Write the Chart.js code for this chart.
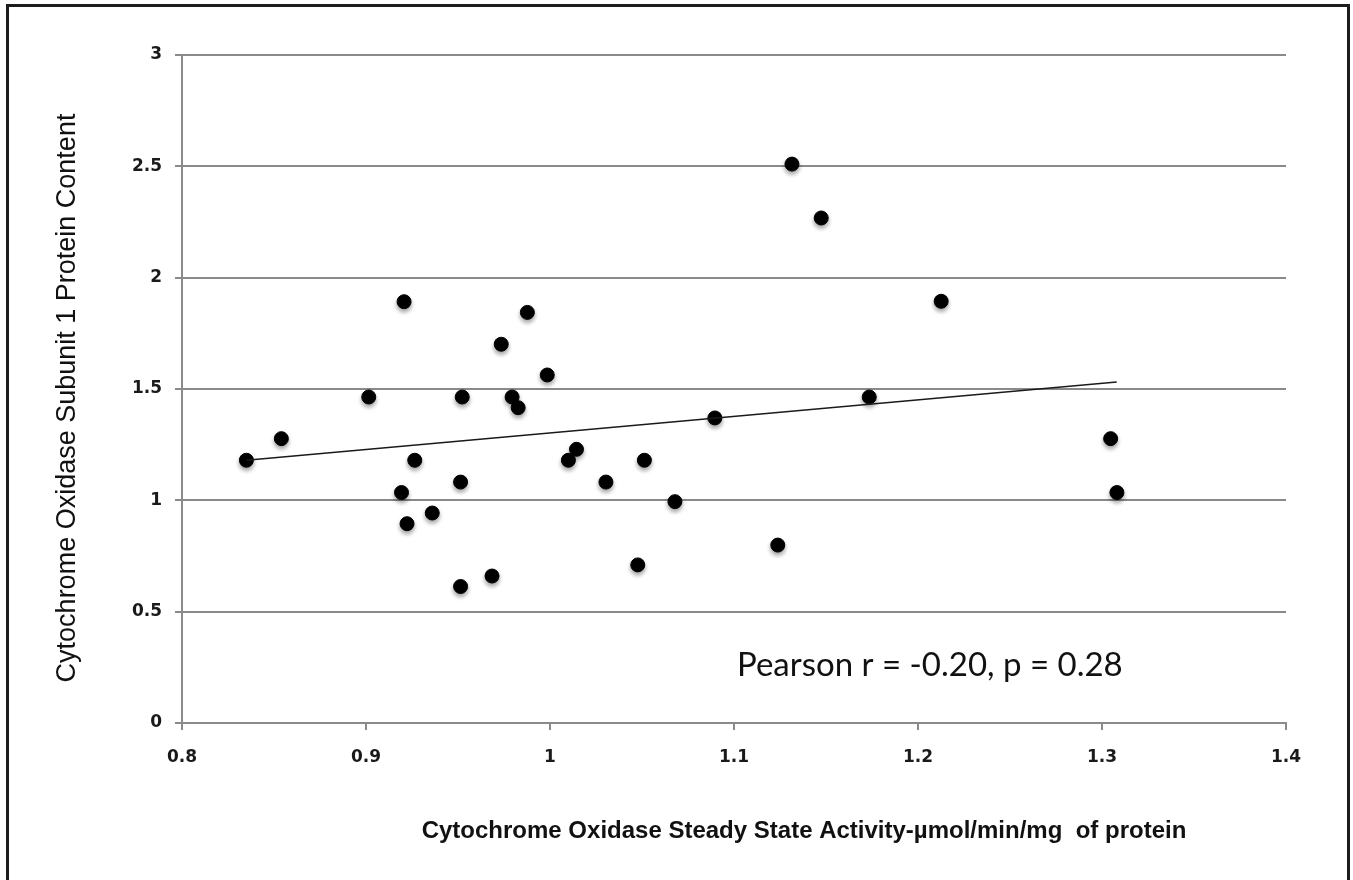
<!DOCTYPE html>
<html>
<head>
<meta charset="utf-8">
<script src="https://cdn.jsdelivr.net/npm/chart.js@4.4.1/dist/chart.umd.min.js"></script>
<style>
  html, body { margin: 0; padding: 0; background: #fff; overflow: hidden; }
  #wrap { position: relative; width: 1353px; height: 880px; }
  #frame {
    position: absolute; left: 6px; top: 4px; width: 1338px; height: 900px;
    border: 3px solid #1c1c1c; border-bottom: none; pointer-events: none;
  }
</style>
</head>
<body>
<div id="wrap">
  <canvas id="chartCox"></canvas>
  <div id="frame"></div>
</div>
<script>
// steady state activity (x) vs subunit 1 protein content (y)
const activity = [0.835, 0.854, 0.9015, 0.9193, 0.9207, 0.9223, 0.9265, 0.936, 0.9514, 0.9514,
  0.9523, 0.9685, 0.9735, 0.9794, 0.9827, 0.9877, 0.9985, 1.010, 1.0144, 1.0304,
  1.0477, 1.0513, 1.0679, 1.0896, 1.1238, 1.1315, 1.1474, 1.1735, 1.2126, 1.3047, 1.3081];
const protein = [1.180, 1.277, 1.464, 1.035, 1.892, 0.895, 1.180, 0.943, 1.082, 0.613,
  1.464, 0.660, 1.701, 1.464, 1.416, 1.844, 1.563, 1.180, 1.229, 1.082,
  0.710, 1.180, 0.994, 1.370, 0.799, 2.510, 2.268, 1.464, 1.894, 1.277, 1.035];

// linear trend line end points
const trendX = [0.835, 1.308];
const trendY = [1.180, 1.531];

const xTicks = [0.8, 0.9, 1, 1.1, 1.2, 1.3, 1.4];
const yTicks = [0, 0.5, 1, 1.5, 2, 2.5, 3];

const yTitle = 'Cytochrome Oxidase Subunit 1 Protein Content';
const xTitle = 'Cytochrome Oxidase Steady State Activity-\u00b5mol/min/mg  of protein';
const statText = 'Pearson r = -0.20, p = 0.28';

const scatterPts = activity.map((x, i) => ({ x: x, y: protein[i] }));
const trendPts = trendX.map((x, i) => ({ x: x, y: trendY[i] }));

// soft shadow under the dots
const dotShadow = {
  id: 'dotShadow',
  beforeDatasetDraw(chart, args) {
    if (args.index !== 1) return;
    const ctx = chart.ctx;
    ctx.save();
    ctx.shadowColor = 'rgba(0,0,0,0.35)';
    ctx.shadowBlur = 4;
    ctx.shadowOffsetY = 3;
  },
  afterDatasetDraw(chart, args) {
    if (args.index !== 1) return;
    chart.ctx.restore();
  }
};

// axis titles + annotation
const textLayer = {
  id: 'textLayer',
  afterDraw(chart) {
    const ctx = chart.ctx;
    ctx.save();
    ctx.fillStyle = '#111';
    ctx.textAlign = 'center';
    ctx.textBaseline = 'middle';

    ctx.save();
    ctx.translate(68, 398);
    ctx.rotate(-Math.PI / 2);
    ctx.font = '27px "Liberation Sans", Arial, sans-serif';
    ctx.fillText(yTitle, 0, 0);
    ctx.restore();

    ctx.font = 'bold 24px "Liberation Sans", Arial, sans-serif';
    ctx.fillText(xTitle, 804, 831);

    ctx.textAlign = 'left';
    ctx.font = '33px Lato, "Open Sans", sans-serif';
    ctx.fillText(statText, 737, 665);
    ctx.restore();
  }
};

const ctx = document.getElementById('chartCox').getContext('2d');
new Chart(ctx, {
  type: 'scatter',
  data: {
    datasets: [
      {
        type: 'line',
        label: 'trend',
        data: trendPts,
        borderColor: '#1a1a1a',
        borderWidth: 1.5,
        pointRadius: 0,
        fill: false,
        tension: 0
      },
      {
        label: 'COX',
        data: scatterPts,
        backgroundColor: '#000',
        borderColor: '#000',
        pointRadius: 7,
        pointHoverRadius: 7
      }
    ]
  },
  options: {
    responsive: true,
    maintainAspectRatio: false,
    animation: false,
    layout: { padding: { left: 0, top: 55, right: 67, bottom: 0 } },
    plugins: {
      legend: { display: false },
      tooltip: { enabled: false }
    },
    scales: {
      x: {
        type: 'linear',
        min: 0.8,
        max: 1.4,
        afterBuildTicks: (scale) => { scale.ticks = xTicks.map(v => ({ value: v })); },
        afterFit: (scale) => { scale.height = 157; },
        border: { color: '#8a8a8a', width: 2 },
        grid: { drawOnChartArea: false, color: '#8a8a8a', lineWidth: 2, tickLength: 7 },
        ticks: {
          padding: 17,
          color: '#1a1a1a',
          font: { family: '"DejaVu Sans", Verdana, sans-serif', size: 17, weight: 'bold' },
          callback: (v) => String(+v.toFixed(1))
        }
      },
      y: {
        type: 'linear',
        min: 0,
        max: 3,
        afterBuildTicks: (scale) => { scale.ticks = yTicks.map(v => ({ value: v })); },
        afterFit: (scale) => { scale.width = 182; },
        border: { color: '#8a8a8a', width: 2 },
        grid: { color: '#8a8a8a', lineWidth: 2, tickLength: 7 },
        ticks: {
          padding: 13,
          color: '#1a1a1a',
          font: { family: '"DejaVu Sans", Verdana, sans-serif', size: 17, weight: 'bold' },
          callback: (v) => String(+v.toFixed(1))
        }
      }
    }
  },
  plugins: [dotShadow, textLayer]
});
</script>
</body>
</html>
